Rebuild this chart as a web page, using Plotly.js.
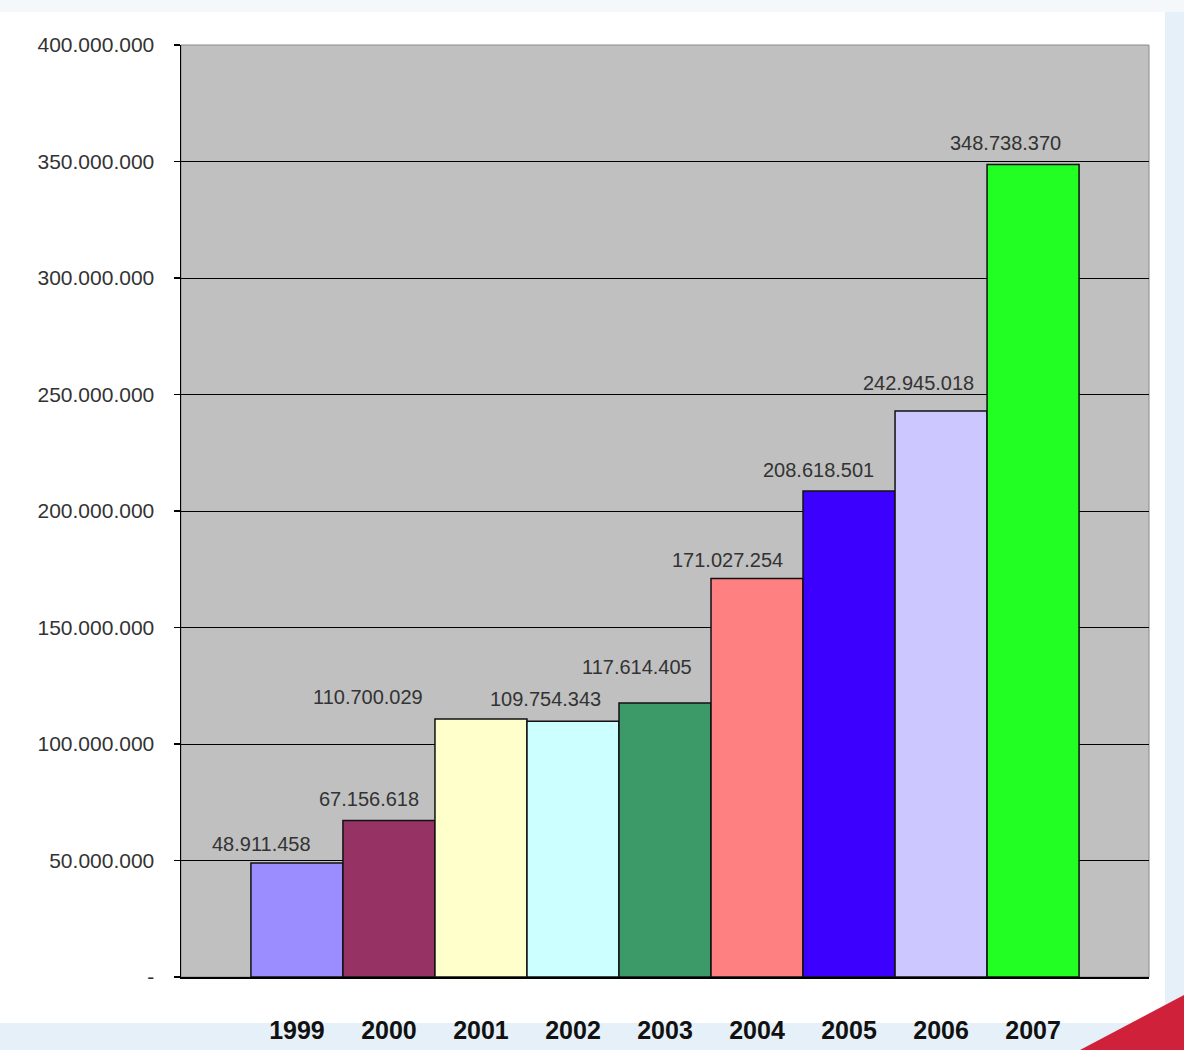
<!DOCTYPE html>
<html>
<head>
<meta charset="utf-8">
<script src="https://cdn.plot.ly/plotly-3.0.1.min.js"></script>
<style>html,body{margin:0;padding:0;background:#fff;}#chart{width:1184px;height:1050px;}</style>
</head>
<body>
<div id="chart"></div>
<script>
const years = ['1999','2000','2001','2002','2003','2004','2005','2006','2007'];
const values = [48911458, 67156618, 110700029, 109754343, 117614405, 171027254, 208618501, 242945018, 348738370];
const barColors = ['#9b8cff','#963264','#ffffcc','#ccffff','#3c9a68','#ff8080','#3c00ff','#ccc8ff','#22ff22'];
const yTickVals = [0, 50000000, 100000000, 150000000, 200000000, 250000000, 300000000, 350000000, 400000000];
const yTickText = ['-', '50.000.000', '100.000.000', '150.000.000', '200.000.000', '250.000.000', '300.000.000', '350.000.000', '400.000.000'];

function fmt(v){
  const s = String(v);
  let out = '';
  for (let k = 0; k < s.length; k++) {
    if (k > 0 && (s.length - k) % 3 === 0) out += '.';
    out += s[k];
  }
  return out;
}

const trace = {
  type: 'bar',
  x: years,
  y: values,
  marker: {color: barColors, line: {color: '#111', width: 1.5}},
  hoverinfo: 'skip'
};

// label placement tweaks (pixels), as in the original slide
const labelNudgeX = [-35, -20, -113, -27, -28, -30, -31, -23, -28];
const labelNudgeY = [19, 22, 22, 22, 36, 19, 21, 28, 21];

const annotations = values.map((v, i) => ({
  x: i, y: v, xref: 'x', yref: 'y',
  text: fmt(v), showarrow: false,
  xanchor: 'center', yanchor: 'middle', xshift: labelNudgeX[i], yshift: labelNudgeY[i],
  font: {family: 'Arial, Liberation Sans, sans-serif', size: 20, color: '#333'}
}));

// paper coords helpers: plot area spans x 181..1149, y 45..977 px
const L = 181, R = 1149, T = 45, B = 977;
const px = v => (v - L) / (R - L);
const py = v => (B - v) / (B - T);

const shapes = [
  {type:'rect', xref:'paper', yref:'paper', x0:px(1165), x1:px(1184), y0:py(1050), y1:py(0), fillcolor:'#e6f0f8', line:{width:0}, layer:'below'},
  {type:'rect', xref:'paper', yref:'paper', x0:px(0), x1:px(1184), y0:py(1050), y1:py(1023), fillcolor:'#e6f0f8', line:{width:0}, layer:'below'},
  {type:'rect', xref:'paper', yref:'paper', x0:px(0), x1:px(1184), y0:py(12), y1:py(0), fillcolor:'#f4f8fb', line:{width:0}, layer:'below'},
  {type:'path', xref:'paper', yref:'paper', path:'M ' + px(1080) + ' ' + py(1050) + ' L ' + px(1184) + ' ' + py(1050) + ' L ' + px(1184) + ' ' + py(995) + ' Z', fillcolor:'#d0213a', line:{width:0}, layer:'below'},
  {type:'rect', xref:'paper', yref:'paper', x0:0, x1:1, y0:0, y1:1, line:{color:'#8a8a8a', width:1}, fillcolor:'rgba(0,0,0,0)', layer:'below'}
];

const layout = {
  width: 1184, height: 1050,
  margin: {l: L, r: 1184 - R, t: T, b: 1050 - B, pad: 0},
  paper_bgcolor: '#ffffff',
  plot_bgcolor: '#c0c0c0',
  showlegend: false,
  bargap: 0,
  xaxis: {
    type: 'category',
    range: [-1.26, 9.26],
    showgrid: false, zeroline: false,
    showline: true, linecolor: '#000', linewidth: 1.5,
    ticks: '',
    tickfont: {family: 'Arial, Liberation Sans, sans-serif', size: 25, color: '#111', weight: 'bold'},
    ticklabelstandoff: 30,
    fixedrange: true
  },
  yaxis: {
    range: [0, 400000000],
    tickvals: yTickVals, ticktext: yTickText,
    showgrid: true, gridcolor: '#000', gridwidth: 1,
    zeroline: false,
    showline: true, linecolor: '#000', linewidth: 1.5,
    ticks: 'outside', ticklen: 6, tickcolor: '#000', tickwidth: 1.5,
    tickfont: {family: 'Arial, Liberation Sans, sans-serif', size: 21, color: '#333'},
    ticklabelstandoff: 15,
    fixedrange: true
  },
  annotations: annotations,
  shapes: shapes
};

Plotly.newPlot('chart', [trace], layout, {displayModeBar: false, staticPlot: true});
</script>
</body>
</html>
